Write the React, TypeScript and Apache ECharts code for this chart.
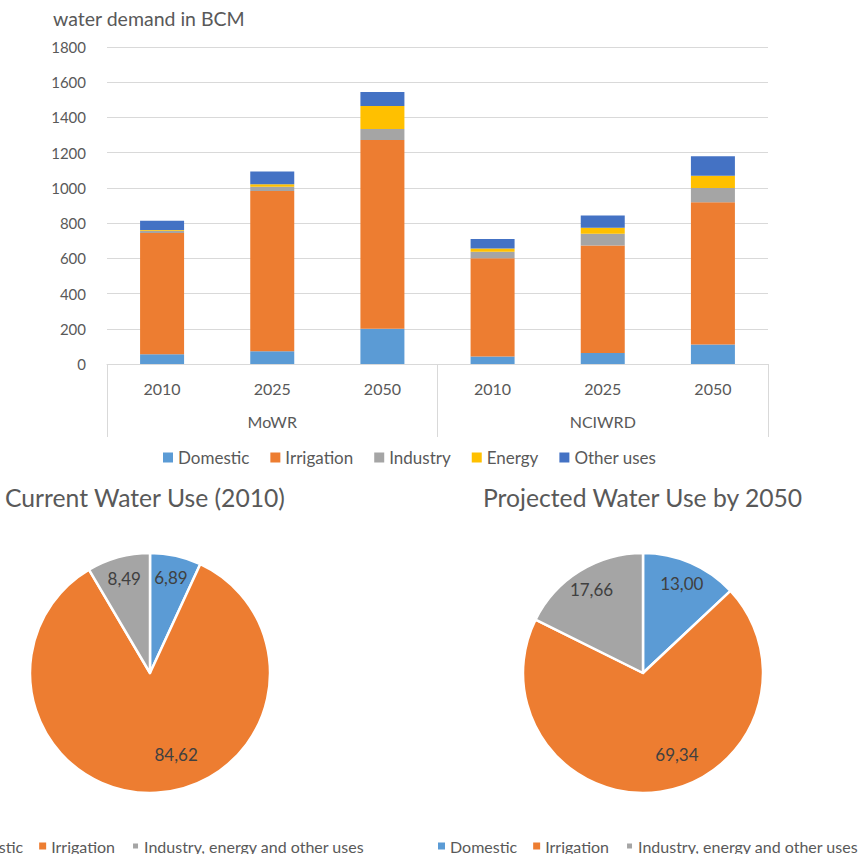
import React, { useEffect, useRef } from "react";
import * as echarts from "echarts";

const groups = ["MoWR", "NCIWRD"];
const years = ["2010", "2025", "2050", "2010", "2025", "2050"];
const domestic = [56, 73, 200, 43, 62, 111];
const irrigation = [688, 910, 1072, 557, 611, 807];
const industry = [12, 23, 63, 37, 67, 81];
const energy = [5, 15, 130, 19, 33, 70];
const otherUses = [52, 72, 80, 54, 70, 111];
const yTicks = { min: 0, max: 1800, interval: 200 };

const pieNames = ["Domestic", "Irrigation", "Industry, energy and other uses"];
const pie2010 = [6.89, 84.62, 8.49];
const pie2050 = [13.0, 69.34, 17.66];

const COLORS = {
  Domestic: "#5B9BD5",
  Irrigation: "#ED7D31",
  Industry: "#A5A5A5",
  Energy: "#FFC000",
  "Other uses": "#4472C4",
};
const PIE_COLORS = ["#5B9BD5", "#ED7D31", "#A5A5A5"];
const FONT = "Lato, 'Open Sans', sans-serif";
const TXT = "#595959";

export default function App() {
  const ref = useRef<HTMLDivElement>(null);
  useEffect(() => {
    if (!ref.current) return;
    const chart = echarts.init(ref.current, null, { renderer: "svg" });
    const keys = years.map((y, i) => groups[Math.floor(i / 3)] + "-" + y);
    const barSeries = [
      ["Domestic", domestic],
      ["Irrigation", irrigation],
      ["Industry", industry],
      ["Energy", energy],
      ["Other uses", otherUses],
    ].map(([name, data]) => ({
      name: name as string,
      type: "bar",
      stack: "total",
      barWidth: 44,
      data: data as number[],
      itemStyle: { color: (COLORS as any)[name as string] },
    }));

    const pieCenters = [
      [150, 673],
      [643, 673],
    ];
    const makeLayout = (c: number[]) => (params: any) => {
      const r = params.labelRect;
      const cx = r.x + r.width / 2;
      const cy = r.y + r.height / 2;
      if (params.dataIndex === 1) {
        return { x: c[0] + (cx - c[0]) * 1.3 + 22, y: c[1] + (cy - c[1]) * 1.3 };
      }
      return { x: c[0] + (cx - c[0]) * 1.55, y: c[1] + (cy - c[1]) * 1.55 };
    };
    const makePie = (values: number[], idx: number) => ({
      type: "pie",
      center: pieCenters[idx],
      radius: 120,
      startAngle: 90,
      clockwise: true,
      data: values.map((v, i) => ({ name: pieNames[i], value: v, itemStyle: { color: PIE_COLORS[i] } })),
      itemStyle: { borderColor: "#ffffff", borderWidth: 2.5 },
      label: {
        show: true,
        position: "inside",
        formatter: (p: any) => p.value.toFixed(2).replace(".", ","),
        color: "#404040",
        fontSize: 17,
        fontFamily: FONT,
      },
      labelLayout: makeLayout(pieCenters[idx]),
      labelLine: { show: false },
      emphasis: { disabled: true },
    });

    const pieLegend = (left: number) => ({
      data: pieNames,
      orient: "horizontal",
      left,
      top: 838,
      width: 800,
      padding: 0,
      itemWidth: 7,
      itemHeight: 7,
      itemGap: 16,
      icon: "rect",
      textStyle: { fontSize: 16, color: TXT, fontFamily: FONT },
      selectedMode: false,
    });

    chart.setOption({
      animation: false,
      textStyle: { fontFamily: FONT },
      title: [
        {
          text: "water demand in BCM",
          left: 53,
          top: 8,
          padding: 0,
          textStyle: { fontSize: 19.5, fontWeight: "normal", color: TXT, fontFamily: FONT },
        },
        {
          text: "Current Water Use (2010)",
          left: 5,
          top: 485,
          padding: 0,
          textStyle: { fontSize: 24.7, fontWeight: "normal", color: TXT, fontFamily: FONT },
        },
        {
          text: "Projected Water Use by 2050",
          left: 483,
          top: 485,
          padding: 0,
          textStyle: { fontSize: 24.7, fontWeight: "normal", color: TXT, fontFamily: FONT },
        },
      ],
      legend: [
        {
          data: ["Domestic", "Irrigation", "Industry", "Energy", "Other uses"],
          left: 163,
          top: 449,
          padding: 0,
          itemWidth: 10,
          itemHeight: 10,
          itemGap: 21,
          icon: "rect",
          textStyle: { fontSize: 17, color: TXT, fontFamily: FONT },
          selectedMode: false,
        },
        pieLegend(-56),
        pieLegend(438),
      ],
      grid: { left: 107, right: 93, top: 47, height: 317, containLabel: false },
      xAxis: [
        {
          type: "category",
          data: keys,
          axisLine: { lineStyle: { color: "#d9d9d9" } },
          axisTick: { show: false },
          axisLabel: {
            formatter: (v: string) => v.split("-")[1],
            color: TXT,
            fontSize: 16,
            margin: 16,
            fontFamily: FONT,
          },
        },
        {
          type: "category",
          data: groups,
          position: "bottom",
          axisLine: { show: false },
          axisTick: { show: true, length: 73, lineStyle: { color: "#d9d9d9" } },
          axisLabel: { color: TXT, fontSize: 16, margin: 49, fontFamily: FONT },
        },
      ],
      yAxis: {
        type: "value",
        min: yTicks.min,
        max: yTicks.max,
        interval: yTicks.interval,
        axisLine: { show: false },
        axisTick: { show: false },
        splitLine: { lineStyle: { color: "#d9d9d9" } },
        axisLabel: {
          color: TXT,
          fontSize: 15,
          margin: 21,
          fontFamily: FONT,
          formatter: (v: number) => String(v),
        },
      },
      series: [...barSeries, makePie(pie2010, 0), makePie(pie2050, 1)],
    });
    return () => chart.dispose();
  }, []);
  return (
    <div
      ref={ref}
      style={{ position: "absolute", left: 0, top: 0, width: 861, height: 854, background: "#fff" }}
    />
  );
}
